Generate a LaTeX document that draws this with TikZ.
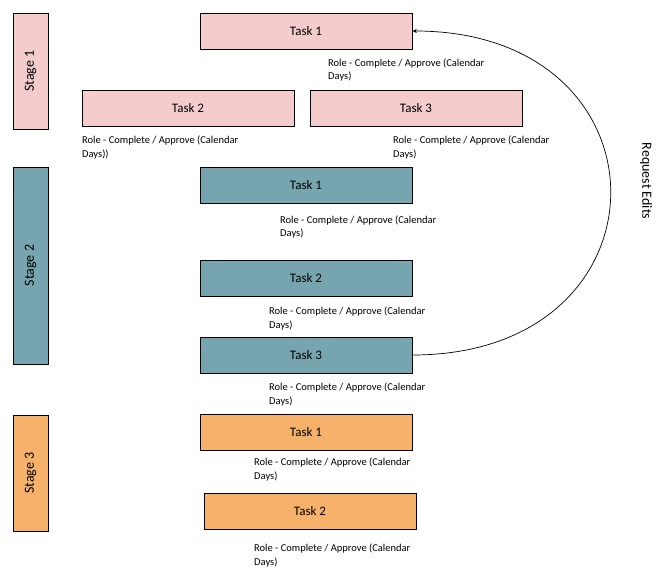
\documentclass[tikz,border=0pt]{standalone}
\usepackage{fontspec}
\setmainfont{Carlito}
\usetikzlibrary{arrows.meta,positioning}
\definecolor{stagepink}{HTML}{F4CCCC}
\definecolor{stageteal}{HTML}{76A5AF}
\definecolor{stageorange}{HTML}{F6B26B}

\begin{document}
\begin{tikzpicture}[x=1pt, y=-1pt,
  stage/.style={rectangle, minimum width=35pt, inner sep=0pt, draw=black, line width=0.8pt, font=\fontsize{14}{16}\selectfont},
  task/.style={rectangle, minimum width=212pt, minimum height=36pt, inner sep=0pt, draw=black, line width=0.8pt, font=\fontsize{13}{15}\selectfont},
  role/.style={anchor=west, inner sep=0pt, align=left, font=\fontsize{10.5}{13.5}\selectfont},
  arrow/.style={-{Stealth[length=4.5pt, width=4pt]}, line width=0.7pt},
]
\useasboundingbox (0,0) rectangle (670,581);

% Stage 1
\node[stage, fill=stagepink, minimum height=116pt] (stage1) at (30.5,71) {\rotatebox{90}{Stage 1}};
\node[task, fill=stagepink] (s1task1) at (306,31) {Task 1};
\node[task, fill=stagepink] (s1task2) at (188,108) {Task 2};
\node[task, fill=stagepink] (s1task3) at (416,108) {Task 3};
\node[role] (s1role1) at (328,70) {Role - Complete / Approve (Calendar\\Days)};
\node[role] (s1role2) at (82,147.5) {Role - Complete / Approve (Calendar\\Days))};
\node[role] (s1role3) at (393,147.5) {Role - Complete / Approve (Calendar\\Days)};

% Stage 2
\node[stage, fill=stageteal, minimum height=197pt] (stage2) at (30.5,265.5) {\rotatebox{90}{Stage 2}};
\node[task, fill=stageteal] (s2task1) at (306,185) {Task 1};
\node[task, fill=stageteal] (s2task2) at (306,278) {Task 2};
\node[task, fill=stageteal] (s2task3) at (306,355) {Task 3};
\node[role] (s2role1) at (280,227) {Role - Complete / Approve (Calendar\\Days)};
\node[role] (s2role2) at (269,318.5) {Role - Complete / Approve (Calendar\\Days)};
\node[role] (s2role3) at (269,394.5) {Role - Complete / Approve (Calendar\\Days)};

% Stage 3
\node[stage, fill=stageorange, minimum height=116pt] (stage3) at (30.5,473) {\rotatebox{90}{Stage 3}};
\node[task, fill=stageorange] (s3task1) at (306,432.5) {Task 1};
\node[task, fill=stageorange] (s3task2) at (310,511) {Task 2};
\node[role] (s3role1) at (254,469.5) {Role - Complete / Approve (Calendar\\Days)};
\node[role] (s3role2) at (254,555.5) {Role - Complete / Approve (Calendar\\Days)};

% Loop back for edits
\draw[arrow] (s2task3.east) .. controls +(264,0) and +(264,0) .. (s1task1.east);
\node[font=\fontsize{14}{16}\selectfont, rotate=-90] (edits) at (646,181) {Request Edits};

\end{tikzpicture}
\end{document}
